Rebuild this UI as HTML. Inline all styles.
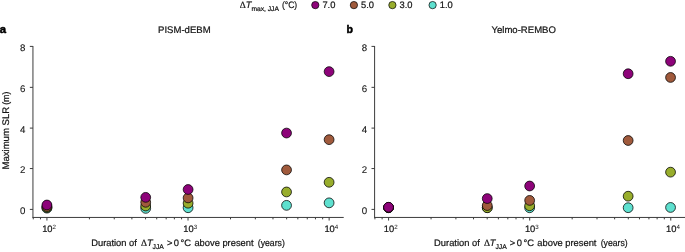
<!DOCTYPE html>
<html><head><meta charset="utf-8"><style>
html,body{margin:0;padding:0;background:#fff;}
svg{display:block;will-change:transform;opacity:0.999}
.t{font-family:"Liberation Sans",sans-serif;font-size:9.35px;fill:#151515;stroke:#151515;stroke-width:0.22;text-rendering:geometricPrecision}
.b{font-family:"Liberation Sans",sans-serif;font-weight:bold;fill:#000;stroke:#000;stroke-width:0.5}
.i{font-style:italic}
.sy{font-family:"Liberation Serif",serif}
.ax{stroke:#3c3c3c;stroke-width:1;fill:none}
.c{stroke:#000;stroke-width:0.75}
</style></head><body>
<svg width="685" height="252" viewBox="0 0 685 252">
<rect width="685" height="252" fill="#fff"/>
<text transform="translate(9.2,169.5) rotate(-90)" class="t" style="font-size:9.55px">Maximum SLR</text><text transform="translate(9.2,104.8) rotate(-90) scale(0.94,1)" class="t">(m)</text>
<text x="-0.3" y="32.6" class="b" font-size="11.3">a</text><text x="346.6" y="32.5" class="b" font-size="10.6">b</text>
<path d="M32.95 46.00V217.85" class="ax"/>
<path d="M29.85 209.40H32.95" class="ax"/>
<text x="25.40" y="214.10" text-anchor="end" class="t" style="font-size:9.7px;stroke-width:0.1">0</text>
<path d="M29.85 168.55H32.95" class="ax"/>
<text x="25.40" y="173.25" text-anchor="end" class="t" style="font-size:9.7px;stroke-width:0.1">2</text>
<path d="M29.85 128.10H32.95" class="ax"/>
<text x="25.40" y="132.80" text-anchor="end" class="t" style="font-size:9.7px;stroke-width:0.1">4</text>
<path d="M29.85 87.35H32.95" class="ax"/>
<text x="25.40" y="92.05" text-anchor="end" class="t" style="font-size:9.7px;stroke-width:0.1">6</text>
<path d="M29.85 46.40H32.95" class="ax"/>
<text x="25.40" y="51.10" text-anchor="end" class="t" style="font-size:9.7px;stroke-width:0.1">8</text>
<path d="M32.55 217.45H343.73" class="ax"/>
<path d="M33.26 217.45v1.9" class="ax"/>
<path d="M40.47 217.45v1.9" class="ax"/>
<path d="M46.93 217.45v3.1" class="ax"/>
<path d="M89.41 217.45v1.9" class="ax"/>
<path d="M114.25 217.45v1.9" class="ax"/>
<path d="M131.88 217.45v1.9" class="ax"/>
<path d="M145.55 217.45v1.9" class="ax"/>
<path d="M156.73 217.45v1.9" class="ax"/>
<path d="M166.17 217.45v1.9" class="ax"/>
<path d="M174.36 217.45v1.9" class="ax"/>
<path d="M181.57 217.45v1.9" class="ax"/>
<path d="M188.03 217.45v3.1" class="ax"/>
<path d="M230.51 217.45v1.9" class="ax"/>
<path d="M255.35 217.45v1.9" class="ax"/>
<path d="M272.98 217.45v1.9" class="ax"/>
<path d="M286.65 217.45v1.9" class="ax"/>
<path d="M297.83 217.45v1.9" class="ax"/>
<path d="M307.27 217.45v1.9" class="ax"/>
<path d="M315.46 217.45v1.9" class="ax"/>
<path d="M322.67 217.45v1.9" class="ax"/>
<path d="M329.13 217.45v3.1" class="ax"/>
<text x="42.18" y="232.1" class="t">10<tspan dy="-3.4" font-size="6.2" stroke="none">2</tspan></text>
<text x="183.28" y="232.1" class="t">10<tspan dy="-3.4" font-size="6.2" stroke="none">3</tspan></text>
<text x="324.38" y="232.1" class="t">10<tspan dy="-3.4" font-size="6.2" stroke="none">4</tspan></text>
<circle cx="46.93" cy="208.15" r="4.9" fill="#5ee0cf" class="c"/>
<circle cx="145.70" cy="208.40" r="4.9" fill="#5ee0cf" class="c"/>
<circle cx="188.10" cy="207.75" r="4.9" fill="#5ee0cf" class="c"/>
<circle cx="286.55" cy="205.35" r="4.9" fill="#5ee0cf" class="c"/>
<circle cx="329.10" cy="202.85" r="4.9" fill="#5ee0cf" class="c"/>
<circle cx="46.93" cy="207.55" r="4.9" fill="#98ad2c" class="c"/>
<circle cx="145.70" cy="206.00" r="4.9" fill="#98ad2c" class="c"/>
<circle cx="188.10" cy="203.20" r="4.9" fill="#98ad2c" class="c"/>
<circle cx="286.55" cy="191.95" r="4.9" fill="#98ad2c" class="c"/>
<circle cx="329.10" cy="182.30" r="4.9" fill="#98ad2c" class="c"/>
<circle cx="46.93" cy="206.55" r="4.9" fill="#a05a3c" class="c"/>
<circle cx="145.70" cy="202.30" r="4.9" fill="#a05a3c" class="c"/>
<circle cx="188.10" cy="197.90" r="4.9" fill="#a05a3c" class="c"/>
<circle cx="286.55" cy="169.90" r="4.9" fill="#a05a3c" class="c"/>
<circle cx="329.10" cy="139.65" r="4.9" fill="#a05a3c" class="c"/>
<circle cx="46.93" cy="205.00" r="4.9" fill="#8d0379" class="c"/>
<circle cx="145.70" cy="197.35" r="4.9" fill="#8d0379" class="c"/>
<circle cx="188.10" cy="189.50" r="4.9" fill="#8d0379" class="c"/>
<circle cx="286.55" cy="133.05" r="4.9" fill="#8d0379" class="c"/>
<circle cx="329.10" cy="71.60" r="4.9" fill="#8d0379" class="c"/>
<text x="184.35" y="32.8" text-anchor="middle" class="t" style="font-size:9.55px">PISM-dEBM</text>
<text x="91.20" y="246" class="t">Duration of</text>
<text x="141.00" y="246" class="t sy">Δ</text>
<text x="146.90" y="246" class="t i">T</text>
<text x="152.50" y="249.1" class="t" style="font-size:6.8px">JJA</text>
<text x="166.90" y="246" class="t">&gt;</text>
<text x="173.80" y="246" class="t">0</text>
<text x="180.50" y="246" class="t">°C</text>
<text x="194.40" y="246" class="t">above</text>
<text x="222.40" y="246" class="t">present</text>
<text transform="translate(257.80,246) scale(0.93,1)" class="t">(years)</text>
<path d="M374.60 46.00V217.85" class="ax"/>
<path d="M371.50 209.40H374.60" class="ax"/>
<text x="367.05" y="214.10" text-anchor="end" class="t" style="font-size:9.7px;stroke-width:0.1">0</text>
<path d="M371.50 168.55H374.60" class="ax"/>
<text x="367.05" y="173.25" text-anchor="end" class="t" style="font-size:9.7px;stroke-width:0.1">2</text>
<path d="M371.50 128.10H374.60" class="ax"/>
<text x="367.05" y="132.80" text-anchor="end" class="t" style="font-size:9.7px;stroke-width:0.1">4</text>
<path d="M371.50 87.35H374.60" class="ax"/>
<text x="367.05" y="92.05" text-anchor="end" class="t" style="font-size:9.7px;stroke-width:0.1">6</text>
<path d="M371.50 46.40H374.60" class="ax"/>
<text x="367.05" y="51.10" text-anchor="end" class="t" style="font-size:9.7px;stroke-width:0.1">8</text>
<path d="M374.20 217.45H685.38" class="ax"/>
<path d="M374.91 217.45v1.9" class="ax"/>
<path d="M382.12 217.45v1.9" class="ax"/>
<path d="M388.58 217.45v3.1" class="ax"/>
<path d="M431.06 217.45v1.9" class="ax"/>
<path d="M455.90 217.45v1.9" class="ax"/>
<path d="M473.53 217.45v1.9" class="ax"/>
<path d="M487.20 217.45v1.9" class="ax"/>
<path d="M498.38 217.45v1.9" class="ax"/>
<path d="M507.82 217.45v1.9" class="ax"/>
<path d="M516.01 217.45v1.9" class="ax"/>
<path d="M523.22 217.45v1.9" class="ax"/>
<path d="M529.68 217.45v3.1" class="ax"/>
<path d="M572.16 217.45v1.9" class="ax"/>
<path d="M597.00 217.45v1.9" class="ax"/>
<path d="M614.63 217.45v1.9" class="ax"/>
<path d="M628.30 217.45v1.9" class="ax"/>
<path d="M639.48 217.45v1.9" class="ax"/>
<path d="M648.92 217.45v1.9" class="ax"/>
<path d="M657.11 217.45v1.9" class="ax"/>
<path d="M664.32 217.45v1.9" class="ax"/>
<path d="M670.78 217.45v3.1" class="ax"/>
<text x="383.83" y="232.1" class="t">10<tspan dy="-3.4" font-size="6.2" stroke="none">2</tspan></text>
<text x="524.93" y="232.1" class="t">10<tspan dy="-3.4" font-size="6.2" stroke="none">3</tspan></text>
<text x="666.03" y="232.1" class="t">10<tspan dy="-3.4" font-size="6.2" stroke="none">4</tspan></text>
<circle cx="388.55" cy="207.75" r="4.9" fill="#5ee0cf" class="c"/>
<circle cx="487.25" cy="207.65" r="4.9" fill="#5ee0cf" class="c"/>
<circle cx="529.65" cy="207.75" r="4.9" fill="#5ee0cf" class="c"/>
<circle cx="628.15" cy="207.70" r="4.9" fill="#5ee0cf" class="c"/>
<circle cx="670.55" cy="207.45" r="4.9" fill="#5ee0cf" class="c"/>
<circle cx="388.55" cy="207.65" r="4.9" fill="#98ad2c" class="c"/>
<circle cx="487.25" cy="207.75" r="4.9" fill="#98ad2c" class="c"/>
<circle cx="529.65" cy="205.75" r="4.9" fill="#98ad2c" class="c"/>
<circle cx="628.15" cy="196.20" r="4.9" fill="#98ad2c" class="c"/>
<circle cx="670.55" cy="172.15" r="4.9" fill="#98ad2c" class="c"/>
<circle cx="388.55" cy="207.55" r="4.9" fill="#a05a3c" class="c"/>
<circle cx="487.25" cy="205.55" r="4.9" fill="#a05a3c" class="c"/>
<circle cx="529.65" cy="200.40" r="4.9" fill="#a05a3c" class="c"/>
<circle cx="628.15" cy="140.50" r="4.9" fill="#a05a3c" class="c"/>
<circle cx="670.55" cy="77.45" r="4.9" fill="#a05a3c" class="c"/>
<circle cx="388.55" cy="207.25" r="4.9" fill="#8d0379" class="c"/>
<circle cx="487.25" cy="198.55" r="4.9" fill="#8d0379" class="c"/>
<circle cx="529.65" cy="186.00" r="4.9" fill="#8d0379" class="c"/>
<circle cx="628.15" cy="73.75" r="4.9" fill="#8d0379" class="c"/>
<circle cx="670.55" cy="61.30" r="4.9" fill="#8d0379" class="c"/>
<text x="523.7" y="32.8" text-anchor="middle" class="t" style="font-size:9.55px">Yelmo-REMBO</text>
<text x="434.10" y="246" class="t">Duration of</text>
<text x="483.90" y="246" class="t sy">Δ</text>
<text x="489.80" y="246" class="t i">T</text>
<text x="495.40" y="249.1" class="t" style="font-size:6.8px">JJA</text>
<text x="509.80" y="246" class="t">&gt;</text>
<text x="516.70" y="246" class="t">0</text>
<text x="523.40" y="246" class="t">°C</text>
<text x="537.30" y="246" class="t">above</text>
<text x="565.30" y="246" class="t">present</text>
<text transform="translate(600.70,246) scale(0.93,1)" class="t">(years)</text>
<text x="239.7" y="8.4" class="t"><tspan class="sy">Δ</tspan><tspan class="i">T</tspan><tspan dy="3" font-size="6.7">max, JJA</tspan></text><text transform="translate(281.9,8.4) scale(0.915,1)" class="t">(°C)</text>
<circle cx="315.3" cy="5.1" r="3.65" style="stroke-width:0.7" fill="#8d0379" class="c"/>
<text x="322.40" y="8.4" class="t">7.0</text>
<circle cx="353.9" cy="5.1" r="3.65" style="stroke-width:0.7" fill="#a05a3c" class="c"/>
<text x="361.00" y="8.4" class="t">5.0</text>
<circle cx="392.4" cy="5.1" r="3.65" style="stroke-width:0.7" fill="#98ad2c" class="c"/>
<text x="399.50" y="8.4" class="t">3.0</text>
<circle cx="432.6" cy="5.1" r="3.65" style="stroke-width:0.7" fill="#5ee0cf" class="c"/>
<text x="439.70" y="8.4" class="t">1.0</text>
</svg></body></html>
